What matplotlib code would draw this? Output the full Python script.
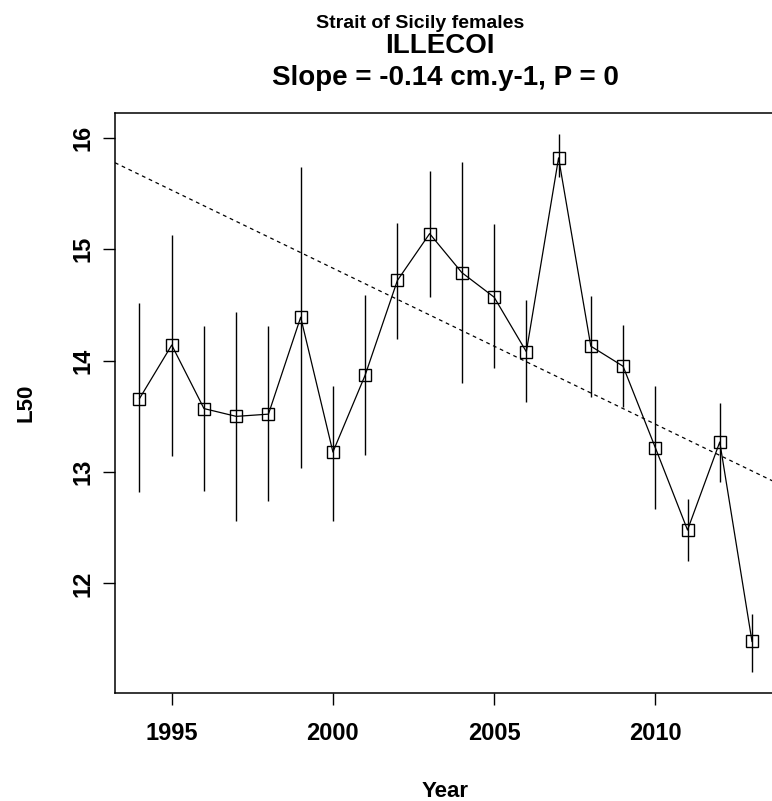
import matplotlib
matplotlib.use("Agg")
import matplotlib.pyplot as plt
import numpy as np

plt.rcParams['font.family'] = ['Liberation Sans', 'DejaVu Sans']

# L50 by year with interval bounds
years = [1994, 1995, 1996, 1997, 1998, 1999, 2000, 2001, 2002, 2003,
         2004, 2005, 2006, 2007, 2008, 2009, 2010, 2011, 2012, 2013]
l50 = [13.66, 14.14, 13.57, 13.50, 13.52, 14.39, 13.18, 13.87, 14.72, 15.14,
       14.79, 14.57, 14.08, 15.82, 14.13, 13.95, 13.22, 12.48, 13.27, 11.48]
upper = [14.52, 15.13, 14.31, 14.44, 14.31, 15.74, 13.77, 14.59, 15.24, 15.70,
         15.78, 15.23, 14.54, 16.03, 14.58, 14.32, 13.77, 12.76, 13.62, 11.73]
lower = [12.82, 13.14, 12.83, 12.56, 12.74, 13.04, 12.56, 13.15, 14.19, 14.57,
         13.80, 13.93, 13.63, 15.65, 13.67, 13.58, 12.67, 12.20, 12.91, 11.21]

# linear trend
slope = -0.14
trend_year = 2003.5
trend_value = 14.34

xticks = [1995, 2000, 2005, 2010]
yticks = [12, 13, 14, 15, 16]

fig = plt.figure(figsize=(7.72, 8.01), dpi=100)
ax = fig.add_axes([115 / 772, 108 / 801, 661.5 / 772, 580 / 801])

# R-style 4% axis extension
xr = max(years) - min(years)
ax.set_xlim(min(years) - 0.04 * xr, max(years) + 0.04 * xr)
yr = max(upper) - min(lower)
ax.set_ylim(min(lower) - 0.04 * yr, max(upper) + 0.04 * yr)

ax.vlines(years, lower, upper, color='black', lw=1.0)
ax.plot(years, l50, '-', color='black', lw=0.9, marker='s', ms=8,
        mfc='none', mec='black', mew=1.0)
ax.axline((trend_year, trend_value), slope=slope, color='black', lw=0.9,
          dashes=(3, 3))

ax.set_xticks(xticks)
ax.set_yticks(yticks)
ax.tick_params(direction='out', length=8.6, width=1.0, labelsize=17)
ax.tick_params(axis='x', pad=12)
ax.tick_params(axis='y', pad=6)
plt.setp(ax.get_xticklabels(), fontweight='bold')
plt.setp(ax.get_yticklabels(), fontweight='bold', rotation=90, va='center')
for sp in ax.spines.values():
    sp.set_linewidth(1.1)

fig.text(26 / 772, 1 - 403 / 801, 'L50', rotation=90, ha='center',
         va='center', fontsize=16, fontweight='bold')
fig.text(445 / 772, 1 - 797 / 801, 'Year', ha='center', va='baseline',
         fontsize=16, fontweight='bold')

fig.text(420 / 772, 1 - 28 / 801, 'Strait of Sicily females', ha='center',
         va='baseline', fontsize=14, fontweight='bold')
fig.text(440 / 772, 1 - 53 / 801, 'ILLECOI', ha='center', va='baseline',
         fontsize=20, fontweight='bold')
fig.text(445 / 772, 1 - 85 / 801, 'Slope = -0.14 cm.y-1, P = 0',
         ha='center', va='baseline', fontsize=20, fontweight='bold')

fig.savefig('out.png', dpi=100)
